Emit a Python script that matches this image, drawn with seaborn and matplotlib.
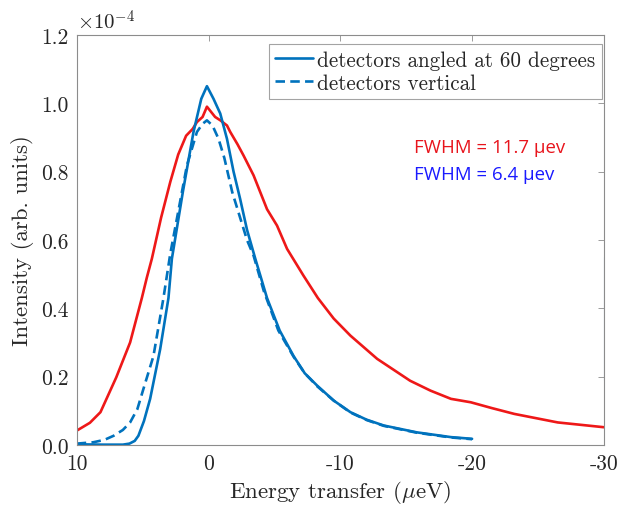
import matplotlib
matplotlib.use("Agg")
import matplotlib.pyplot as plt
import seaborn as sns

# energy transfer (ueV) and intensity (x 1e-4)
red_x = [10, 9.0, 8.2, 7.0, 5.95, 5.06, 4.68, 4.3, 3.6, 2.9, 2.3, 1.7, 1.2, 0.88, 0.45, 0.12,
         -0.5, -0.9, -1.4, -1.65, -2.2, -2.66, -3.42, -4.44, -5.2, -5.96, -7.2, -8.3, -9.5,
         -10.77, -12.8, -15.3, -16.85, -18.4, -19.9, -21.5, -23.2, -26.5, -30]
red_y = [0.042, 0.065, 0.096, 0.198, 0.30, 0.43, 0.49, 0.545, 0.665, 0.77, 0.85, 0.905,
         0.925, 0.945, 0.96, 0.99, 0.96, 0.95, 0.935, 0.916, 0.88, 0.847, 0.789, 0.69, 0.642,
         0.574, 0.496, 0.43, 0.37, 0.32, 0.252, 0.188, 0.159, 0.135, 0.125, 0.108, 0.091,
         0.066, 0.052]

angled_x = [10, 8, 6.5, 6.0, 5.6, 5.32, 4.9, 4.43, 3.67, 3.04, 2.78, 1.95, 1.14, 0.55, 0.12,
            -0.38, -0.89, -1.4, -1.9, -2.4, -2.92, -3.55, -3.93, -4.44, -5.4, -6.46, -7.3,
            -8.24, -9.5, -10.77, -12.0, -13.3, -15.8, -18.4, -20]
angled_y = [0.002, 0.001, 0.001, 0.004, 0.012, 0.027, 0.07, 0.135, 0.28, 0.43, 0.545, 0.74,
            0.916, 1.013, 1.05, 1.013, 0.97, 0.896, 0.80, 0.72, 0.63, 0.545, 0.496, 0.43, 0.335,
            0.26, 0.21, 0.174, 0.13, 0.096, 0.074, 0.057, 0.037, 0.023, 0.018]

vertical_x = [10, 8.74, 7.9, 7.2, 6.5, 5.95, 5.4, 4.94, 4.18, 3.42, 2.9, 2.02, 1.64, 0.88,
              0.45, 0.12, -0.3, -0.76, -1.2, -1.8, -2.92, -3.42, -4.2, -5.3, -6.46, -7.3,
              -8.24, -9.5, -10.77, -12.0, -13.3, -15.8, -18.4, -20]
vertical_y = [0.004, 0.008, 0.015, 0.027, 0.044, 0.066, 0.105, 0.164, 0.26, 0.43, 0.56, 0.74,
              0.818, 0.916, 0.94, 0.95, 0.935, 0.896, 0.84, 0.74, 0.60, 0.554, 0.45, 0.335,
              0.258, 0.21, 0.172, 0.13, 0.095, 0.073, 0.056, 0.036, 0.022, 0.017]

# stray light-blue segment on the right edge of the original
edge_x = [-30, -30]
edge_y = [0.19, 0.55]

x_ticks = [10, 0, -10, -20, -30]
y_ticks = [0.0, 0.2, 0.4, 0.6, 0.8, 1.0, 1.2]

sns.set_style("white")
plt.rcParams["font.family"] = ["cmr10", "DejaVu Serif"]
plt.rcParams["mathtext.fontset"] = "cm"
plt.rcParams["axes.unicode_minus"] = False

blue = "#0072BD"
red = "#EE1818"
txt = "#262626"
axis_col = "#8c8c8c"

fig = plt.figure(figsize=(6.29, 5.06), dpi=100)
ax = fig.add_axes([0.122, 0.1186, 0.838, 0.8104])

sns.lineplot(x=red_x, y=red_y, ax=ax, color=red, lw=1.9, sort=False)
sns.lineplot(x=angled_x, y=angled_y, ax=ax, color=blue, lw=1.9, sort=False,
             label="detectors angled at 60 degrees")
sns.lineplot(x=vertical_x, y=vertical_y, ax=ax, color=blue, lw=1.9, sort=False,
             linestyle=(0, (3.6, 2.0)), label="detectors vertical")
sns.lineplot(x=edge_x, y=edge_y, ax=ax, color="#5aaee0", lw=1.0, sort=False)

ax.set_xlim(10, -30)
ax.set_ylim(0, 1.2)
ax.set_xticks(x_ticks)
ax.set_xticklabels([str(v) for v in x_ticks])
ax.set_yticks(y_ticks)
ax.set_yticklabels([f"{v:.1f}" for v in y_ticks])
ax.tick_params(direction="in", length=4, width=0.6, color=axis_col, labelcolor=txt,
               labelsize=15.5, top=True, right=True, pad=6)
for s in ax.spines.values():
    s.set_color(axis_col)
    s.set_linewidth(0.8)

ax.set_xlabel(r"Energy transfer ($\mu$eV)", fontsize=16.5, color=txt, labelpad=4)
ax.set_ylabel("Intensity (arb. units)", fontsize=16.5, color=txt, labelpad=5)
ax.text(0.0, 1.005, r"$\times10^{-4}$", transform=ax.transAxes, fontsize=15,
        color=txt, ha="left", va="bottom")

leg = ax.legend(loc="upper right", bbox_to_anchor=(0.996, 0.978), fontsize=15.2,
                frameon=True, fancybox=False, handlelength=1.8, handletextpad=0.2,
                borderpad=0.3, labelspacing=0.15, borderaxespad=0)
leg.get_frame().set_edgecolor(axis_col)
leg.get_frame().set_linewidth(0.8)
for t in leg.get_texts():
    t.set_color(txt)

ax.text(0.64, 0.726, "FWHM = 11.7 \u03bcev", transform=ax.transAxes, fontsize=13.4,
        color="#e8141c", family=["Open Sans", "DejaVu Sans"], ha="left", va="center")
ax.text(0.64, 0.66, "FWHM = 6.4 \u03bcev", transform=ax.transAxes, fontsize=13.4,
        color="#1a1aff", family=["Open Sans", "DejaVu Sans"], ha="left", va="center")

fig.savefig("out.png", dpi=100)
